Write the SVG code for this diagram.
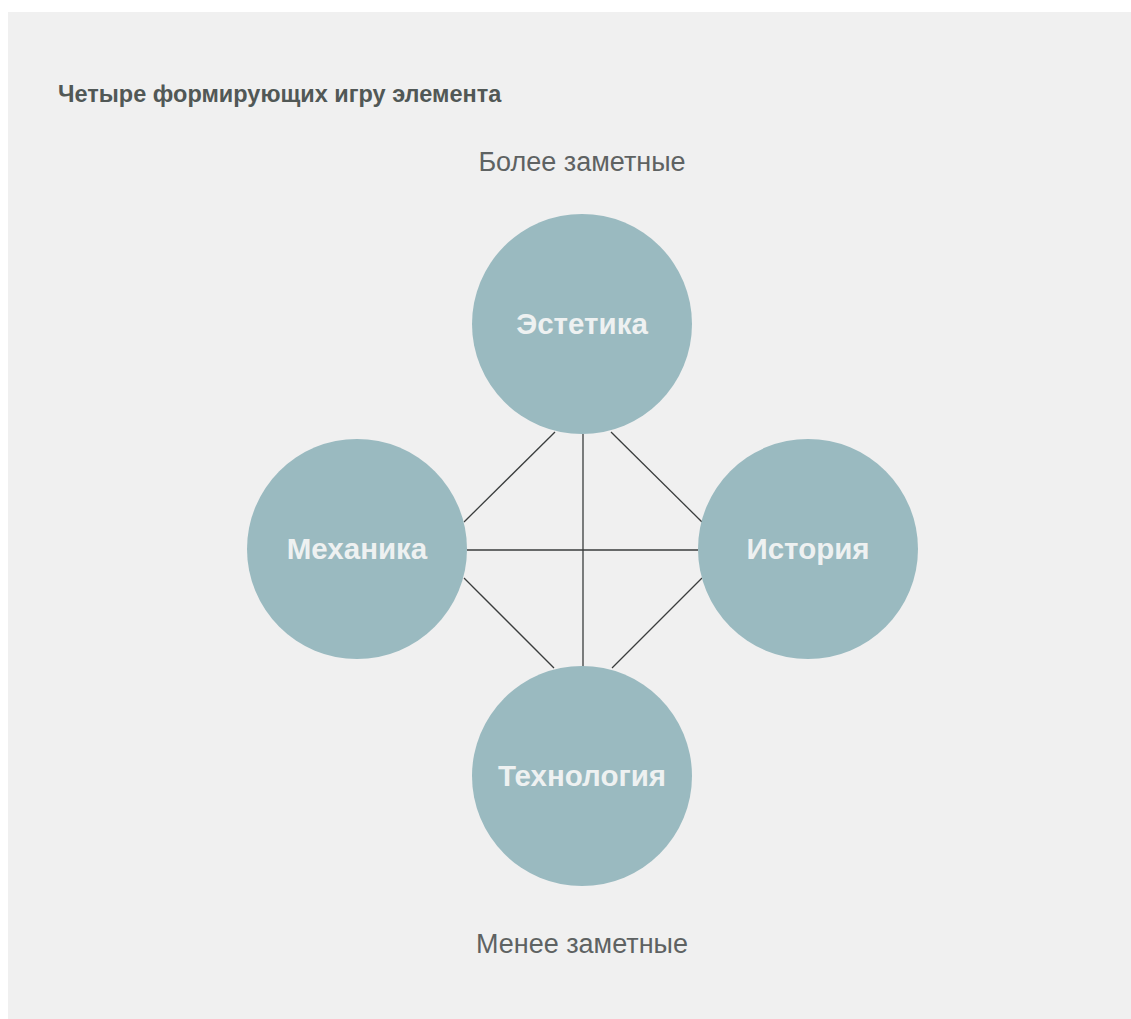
<svg xmlns="http://www.w3.org/2000/svg" width="1131" height="1019" viewBox="0 0 1131 1019">
  <style>
    .node circle { fill: #9abac0; }
    .node text { font-family: "Liberation Sans", Arial, sans-serif; font-weight: bold; font-size: 29.5px; fill: #eef1f1; text-anchor: middle; }
    .caption { font-family: "Liberation Sans", Arial, sans-serif; font-size: 27px; fill: #5e6262; text-anchor: middle; }
    .title { font-family: "Liberation Sans", Arial, sans-serif; font-weight: bold; font-size: 23.5px; fill: #515856; }
    #connectors line { stroke: #3a3d3d; stroke-width: 1.3; }
  </style>
  <rect x="0" y="0" width="1131" height="1019" fill="#ffffff"/>
  <rect x="8" y="12" width="1123" height="1007" fill="#f0f0f0"/>
  <text class="title" x="58" y="102">Четыре формирующих игру элемента</text>
  <text class="caption" x="582" y="171">Более заметные</text>
  <text class="caption" x="582" y="953">Менее заметные</text>
  <g id="connectors">
    <line x1="555" y1="432" x2="464" y2="522"/>
    <line x1="611" y1="432" x2="702" y2="522"/>
    <line x1="464" y1="578" x2="554" y2="668"/>
    <line x1="702" y1="578" x2="612" y2="668"/>
    <line x1="467" y1="550" x2="698" y2="550"/>
    <line x1="583" y1="434" x2="583" y2="667"/>
  </g>
  <g id="node-aesthetics" class="node">
    <circle cx="582" cy="324" r="110"/>
    <text x="582" y="334">Эстетика</text>
  </g>
  <g id="node-mechanics" class="node">
    <circle cx="357" cy="549" r="110"/>
    <text x="357" y="559">Механика</text>
  </g>
  <g id="node-story" class="node">
    <circle cx="808" cy="549" r="110"/>
    <text x="808" y="559">История</text>
  </g>
  <g id="node-technology" class="node">
    <circle cx="582" cy="776" r="110"/>
    <text x="582" y="786">Технология</text>
  </g>
</svg>
